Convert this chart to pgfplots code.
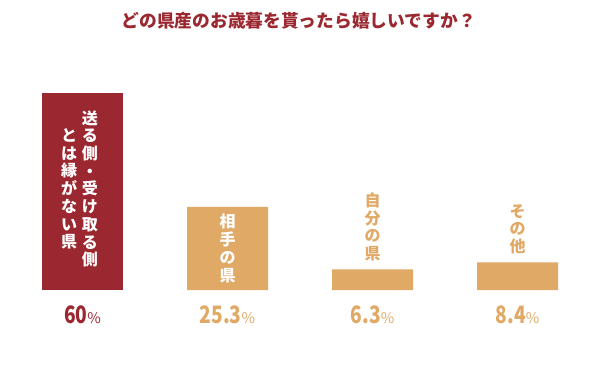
\documentclass[border=0pt]{standalone}
\usepackage{fontspec}
\setmainfont{Noto Sans CJK JP}
\usepackage{pgfplots}
\pgfplotsset{compat=1.18}
\usepackage{graphicx}
\definecolor{cred}{RGB}{155,40,48}
\definecolor{ctan}{RGB}{224,169,102}
\newcommand{\val}[1]{\scalebox{0.8}[1]{\fontsize{18}{18}\bfseries #1}{\fontsize{11}{11}\selectfont\%}}
\begin{document}
\begin{tikzpicture}
\path[use as bounding box] (0,0) rectangle (450pt,282pt);
\node[font=\fontsize{13.3}{15}\selectfont\bfseries, text=cred] at (224pt, 266.5pt) {どの県産のお歳暮を貰ったら嬉しいですか？};
\begin{axis}[at={(7.5pt,64.5pt)}, anchor=south west, scale only axis,
  width=435pt, height=147.75pt, xmin=-0.5, xmax=3.5, ymin=0, ymax=60,
  hide axis, clip=false, ybar, bar width=60.75pt]
\addplot[fill=cred, draw=none, bar shift=0pt] coordinates {(0,60)};
\addplot[fill=ctan, draw=none, bar shift=0pt] coordinates {(1,25.3) (2,6.3) (3,8.4)};
% value labels
\node[anchor=base, text=cred, yshift=-25pt] at (axis cs:0,0) {\val{60}};
\node[anchor=base, text=ctan, yshift=-25pt] at (axis cs:1,0) {\val{25.3}};
\node[anchor=base, text=ctan, yshift=-25pt] at (axis cs:2,0) {\val{6.3}};
\node[anchor=base, text=ctan, yshift=-25pt] at (axis cs:3,0) {\val{8.4}};
% bar texts
\tikzset{blab/.style={align=center, inner sep=0pt, font=\fontsize{12}{13.3}\selectfont\bfseries}}
\node[blab, text=white, xshift=5.5pt, yshift=2pt] at (axis cs:0,30) {送\\る\\側\\・\\受\\け\\取\\る\\側};
\node[blab, text=white, xshift=-10pt, yshift=2pt] at (axis cs:0,30) {と\\は\\縁\\が\\な\\い\\県};
\node[blab, text=white] at (axis cs:1,12.65) {相\\手\\の\\県};
\node[blab, text=ctan, anchor=south, yshift=6pt] at (axis cs:2,6.3) {自\\分\\の\\県};
\node[blab, text=ctan, anchor=south, yshift=6pt] at (axis cs:3,8.4) {そ\\の\\他};
\end{axis}
\end{tikzpicture}
\end{document}
